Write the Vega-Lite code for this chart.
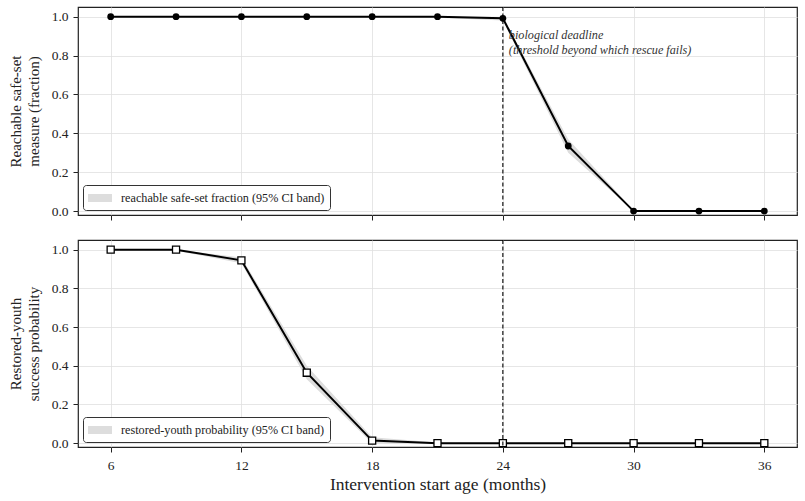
{
  "$schema": "https://vega.github.io/schema/vega-lite/v6.json",
  "padding": {"left": 7, "top": 5, "right": 7, "bottom": 3},
  "spacing": 16,
  "background": "white",
  "config": {
    "font": "Liberation Serif",
    "view": {"stroke": "#222", "strokeWidth": 1.2},
    "axis": {
      "domain": false,
      "tickColor": "#222",
      "tickSize": 5,
      "tickWidth": 1,
      "labelFont": "Liberation Serif",
      "labelFontSize": 13.5,
      "labelColor": "#222",
      "titleFont": "Liberation Serif",
      "titleFontSize": 15,
      "titleLineHeight": 18,
      "titleFontWeight": "normal",
      "titleColor": "#222",
      "gridColor": "#e0e0e0",
      "gridWidth": 0.8
    },
    "axisY": {"labelPadding": 5},
    "legend": {
      "orient": "bottom-left",
      "offset": 5,
      "strokeColor": "#333",
      "strokeWidth": 1,
      "cornerRadius": 3,
      "fillColor": "white",
      "padding": 5,
      "labelFont": "Liberation Serif",
      "labelFontSize": 12.2,
      "labelColor": "#222",
      "labelLimit": 400,
      "title": null,
      "symbolType": "M-1,-0.5H2V0.5H-1Z",
      "symbolSize": 256,
      "symbolStrokeWidth": 0,
      "symbolOpacity": 1,
      "labelOffset": 17
    }
  },
  "resolve": {"scale": {"color": "independent"}, "legend": {"color": "independent"}},
  "datasets": {
    "reach": [
      {"age": 6, "v": 1.0, "lo": 1.0, "hi": 1.0, "band": "reachable safe-set fraction (95% CI band)"},
      {"age": 9, "v": 1.0, "lo": 1.0, "hi": 1.0, "band": "reachable safe-set fraction (95% CI band)"},
      {"age": 12, "v": 1.0, "lo": 1.0, "hi": 1.0, "band": "reachable safe-set fraction (95% CI band)"},
      {"age": 15, "v": 1.0, "lo": 1.0, "hi": 1.0, "band": "reachable safe-set fraction (95% CI band)"},
      {"age": 18, "v": 1.0, "lo": 1.0, "hi": 1.0, "band": "reachable safe-set fraction (95% CI band)"},
      {"age": 21, "v": 1.0, "lo": 0.995, "hi": 1.0, "band": "reachable safe-set fraction (95% CI band)"},
      {"age": 24, "v": 0.992, "lo": 0.98, "hi": 1.0, "band": "reachable safe-set fraction (95% CI band)"},
      {"age": 27, "v": 0.335, "lo": 0.3, "hi": 0.37, "band": "reachable safe-set fraction (95% CI band)"},
      {"age": 30, "v": 0.0, "lo": 0.0, "hi": 0.005, "band": "reachable safe-set fraction (95% CI band)"},
      {"age": 33, "v": 0.0, "lo": 0.0, "hi": 0.0, "band": "reachable safe-set fraction (95% CI band)"},
      {"age": 36, "v": 0.0, "lo": 0.0, "hi": 0.0, "band": "reachable safe-set fraction (95% CI band)"}
    ],
    "youth": [
      {"age": 6, "v": 1.0, "lo": 1.0, "hi": 1.0, "band": "restored-youth probability (95% CI band)"},
      {"age": 9, "v": 1.0, "lo": 0.995, "hi": 1.0, "band": "restored-youth probability (95% CI band)"},
      {"age": 12, "v": 0.945, "lo": 0.93, "hi": 0.96, "band": "restored-youth probability (95% CI band)"},
      {"age": 15, "v": 0.364, "lo": 0.33, "hi": 0.4, "band": "restored-youth probability (95% CI band)"},
      {"age": 18, "v": 0.013, "lo": 0.0, "hi": 0.03, "band": "restored-youth probability (95% CI band)"},
      {"age": 21, "v": 0.0, "lo": 0.0, "hi": 0.003, "band": "restored-youth probability (95% CI band)"},
      {"age": 24, "v": 0.0, "lo": 0.0, "hi": 0.0, "band": "restored-youth probability (95% CI band)"},
      {"age": 27, "v": 0.0, "lo": 0.0, "hi": 0.0, "band": "restored-youth probability (95% CI band)"},
      {"age": 30, "v": 0.0, "lo": 0.0, "hi": 0.0, "band": "restored-youth probability (95% CI band)"},
      {"age": 33, "v": 0.0, "lo": 0.0, "hi": 0.0, "band": "restored-youth probability (95% CI band)"},
      {"age": 36, "v": 0.0, "lo": 0.0, "hi": 0.0, "band": "restored-youth probability (95% CI band)"}
    ],
    "deadline": [{"age": 24}]
  },
  "vconcat": [
    {
      "width": 719,
      "height": 208,
      "layer": [
        {
          "data": {"name": "reach"},
          "mark": {"type": "area", "opacity": 1},
          "encoding": {
            "x": {"field": "age", "type": "quantitative", "scale": {"domain": [4.5, 37.5], "nice": false, "zero": false},
                  "axis": {"values": [6, 12, 18, 24, 30, 36], "labels": false, "title": null}},
            "y": {"field": "lo", "type": "quantitative", "scale": {"domain": [-0.02, 1.05], "nice": false, "zero": false},
                  "axis": {"values": [0, 0.2, 0.4, 0.6, 0.8, 1.0], "format": ".1f", "title": ["Reachable safe-set", "measure (fraction)"], "titlePadding": 10}},
            "y2": {"field": "hi"},
            "color": {"field": "band", "type": "nominal", "scale": {"range": ["#dddddd"]}}
          }
        },
        {
          "data": {"name": "reach"},
          "mark": {"type": "line", "color": "#000", "strokeWidth": 2},
          "encoding": {
            "x": {"field": "age", "type": "quantitative"},
            "y": {"field": "v", "type": "quantitative"}
          }
        },
        {
          "data": {"name": "reach"},
          "mark": {"type": "point", "shape": "circle", "filled": true, "color": "#000", "size": 46, "opacity": 1},
          "encoding": {
            "x": {"field": "age", "type": "quantitative"},
            "y": {"field": "v", "type": "quantitative"}
          }
        },
        {
          "data": {"name": "deadline"},
          "mark": {"type": "rule", "color": "#000", "strokeWidth": 1.1, "strokeDash": [4, 2.5]},
          "encoding": {"x": {"field": "age", "type": "quantitative"}}
        },
        {
          "data": {"name": "deadline"},
          "mark": {"type": "text", "align": "left", "baseline": "top", "dx": 6, "fontStyle": "italic", "fontSize": 12.2, "lineHeight": 15, "color": "#333", "font": "Liberation Serif"},
          "encoding": {
            "x": {"field": "age", "type": "quantitative"},
            "y": {"datum": 0.935},
            "text": {"value": ["biological deadline", "(threshold beyond which rescue fails)"]}
          }
        }
      ]
    },
    {
      "width": 719,
      "height": 207,
      "layer": [
        {
          "data": {"name": "youth"},
          "mark": {"type": "area", "opacity": 1},
          "encoding": {
            "x": {"field": "age", "type": "quantitative", "scale": {"domain": [4.5, 37.5], "nice": false, "zero": false},
                  "axis": {"values": [6, 12, 18, 24, 30, 36], "title": "Intervention start age (months)", "titleFontSize": 17.5, "titlePadding": 4, "labelPadding": 6}},
            "y": {"field": "lo", "type": "quantitative", "scale": {"domain": [-0.02, 1.05], "nice": false, "zero": false},
                  "axis": {"values": [0, 0.2, 0.4, 0.6, 0.8, 1.0], "format": ".1f", "title": ["Restored-youth", "success probability"], "titlePadding": 10}},
            "y2": {"field": "hi"},
            "color": {"field": "band", "type": "nominal", "scale": {"range": ["#dddddd"]}}
          }
        },
        {
          "data": {"name": "youth"},
          "mark": {"type": "line", "color": "#000", "strokeWidth": 2},
          "encoding": {
            "x": {"field": "age", "type": "quantitative"},
            "y": {"field": "v", "type": "quantitative"}
          }
        },
        {
          "data": {"name": "youth"},
          "mark": {"type": "point", "shape": "square", "filled": true, "fill": "#fff", "stroke": "#000", "strokeWidth": 1.3, "size": 50, "opacity": 1},
          "encoding": {
            "x": {"field": "age", "type": "quantitative"},
            "y": {"field": "v", "type": "quantitative"}
          }
        },
        {
          "data": {"name": "deadline"},
          "mark": {"type": "rule", "color": "#000", "strokeWidth": 1.1, "strokeDash": [4, 2.5]},
          "encoding": {"x": {"field": "age", "type": "quantitative"}}
        }
      ]
    }
  ]
}
